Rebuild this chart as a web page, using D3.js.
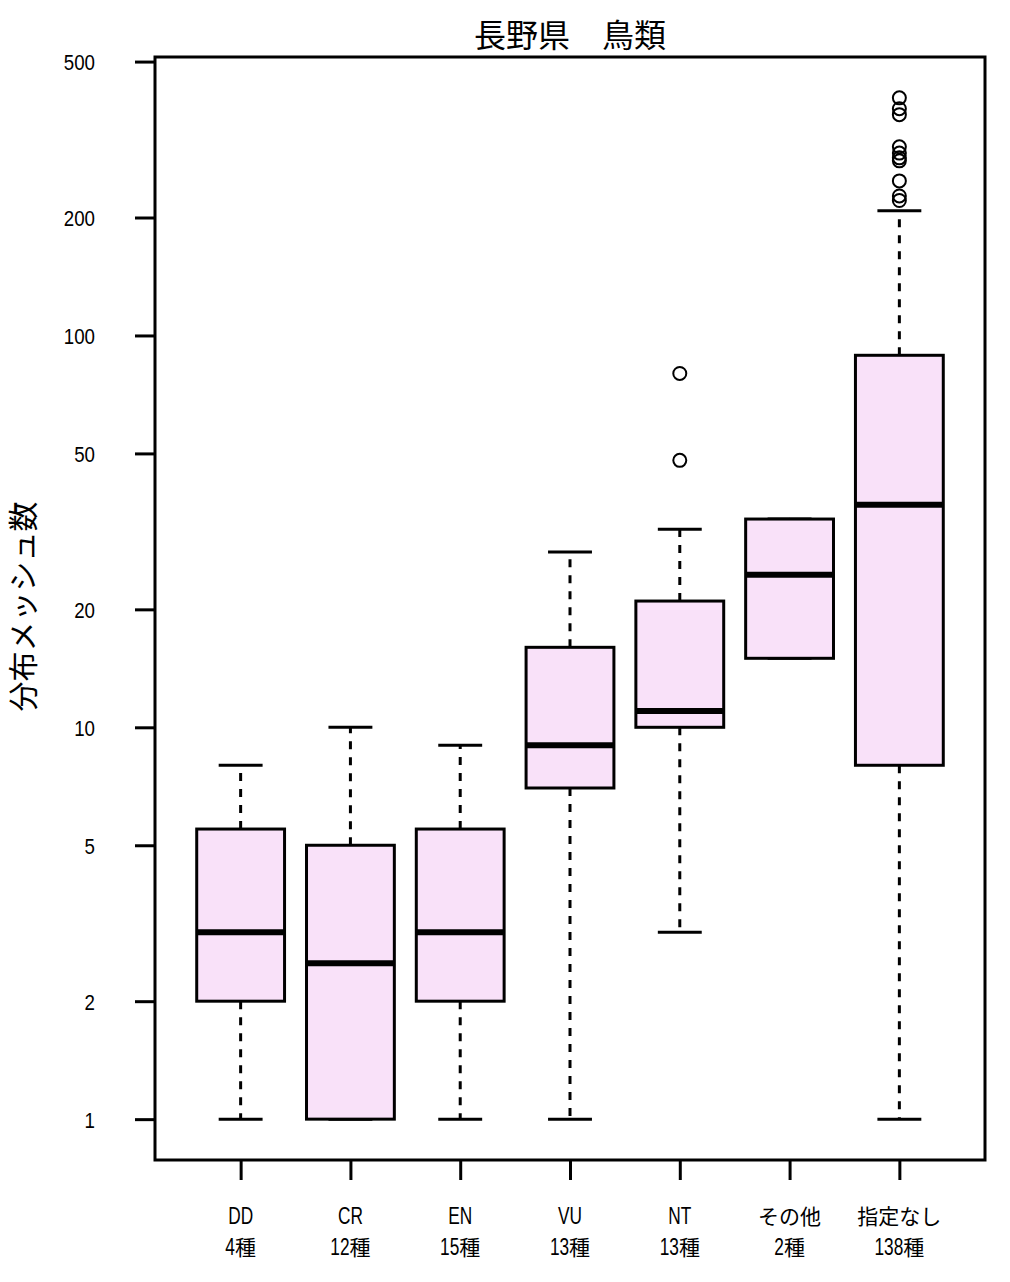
<!DOCTYPE html>
<html>
<head>
<meta charset="utf-8">
<script src="https://cdn.jsdelivr.net/npm/d3@7"></script>
<style>
body { margin:0; background:#fff; }
svg { display:block; }
.lat { font-family: "Liberation Sans", Arial, sans-serif; }
.jp { font-family: "Noto Sans CJK JP", sans-serif; }
</style>
</head>
<body>
<svg id="chart" width="1010" height="1282"></svg>
<script>
// ---- data ----
const categories = ["DD", "CR", "EN", "VU", "NT", "その他", "指定なし"];
const speciesCounts = ["4種", "12種", "15種", "13種", "13種", "2種", "138種"];
const whiskerLow  = [1, 1, 1, 1, 3, 15, 1];
const boxLow      = [2, 1, 2, 7, 10, 15, 8];
const medians     = [3, 2.5, 3, 9, 11, 24.5, 37];
const boxHigh     = [5.5, 5, 5.5, 16, 21, 34, 89];
const whiskerHigh = [8, 10, 9, 28, 32, 34, 208];
const outliers = [
  [], [], [], [], [48, 80], [],
  [404, 379, 366, 303, 292, 284, 279, 248, 227, 221]
];
const yTicks = [1, 2, 5, 10, 20, 50, 100, 200, 500];
const titleText = "長野県　鳥類";
const yLabel = "分布メッシュ数";

// ---- layout ----
const svg = d3.select("#chart");
const L = 155, R = 985, T = 57, B = 1160;
const n = categories.length;
const ext = n * 0.04;
const x = d3.scaleLinear().domain([0.5 - ext, n + 0.5 + ext]).range([L, R]);
const allVals = whiskerLow.concat(whiskerHigh, outliers.flat());
const lmin = Math.log10(d3.min(allVals)), lmax = Math.log10(d3.max(allVals));
const pad = (lmax - lmin) * 0.04;
const y = d3.scaleLog().domain([Math.pow(10, lmin - pad), Math.pow(10, lmax + pad)]).range([B, T]);

const unit = x(2) - x(1);
const boxW = unit * 0.8;
const capW = boxW / 2;
const fill = "#f9e1f9";
const lw = 3;

// mixed-script text: narrow tall Latin, normal CJK
function mixedText(parent, cx, by, str, anchor, latSize, sx, cjkSize) {
  const runs = [];
  for (const ch of str) {
    const isLat = ch.charCodeAt(0) < 128;
    if (runs.length && runs[runs.length - 1].lat === isLat) runs[runs.length - 1].s += ch;
    else runs.push({ lat: isLat, s: ch });
  }
  const g = parent.append("g");
  const els = runs.map(r => {
    const t = g.append("text").attr("class", r.lat ? "lat" : "jp")
      .style("font-size", (r.lat ? latSize : cjkSize) + "px").attr("fill", "#000").text(r.s);
    const w = t.node().getComputedTextLength() * (r.lat ? sx : 1);
    return { t, w, lat: r.lat };
  });
  const total = d3.sum(els, e => e.w);
  let xp = anchor === "middle" ? cx - total / 2 : anchor === "end" ? cx - total : cx;
  els.forEach(e => {
    e.t.attr("transform", `translate(${xp},${by}) scale(${e.lat ? sx : 1},1)`);
    xp += e.w;
  });
  return g;
}

const g = svg.append("g");
categories.forEach((c, i) => {
  const cx = x(i + 1);
  const grp = g.append("g");
  grp.append("line").attr("x1", cx).attr("x2", cx)
    .attr("y1", y(boxLow[i])).attr("y2", y(whiskerLow[i]))
    .attr("stroke", "#000").attr("stroke-width", lw).attr("stroke-dasharray", "8,8");
  grp.append("line").attr("x1", cx).attr("x2", cx)
    .attr("y1", y(boxHigh[i])).attr("y2", y(whiskerHigh[i]))
    .attr("stroke", "#000").attr("stroke-width", lw).attr("stroke-dasharray", "8,8");
  [whiskerLow[i], whiskerHigh[i]].forEach(v => {
    grp.append("line").attr("x1", cx - capW / 2).attr("x2", cx + capW / 2)
      .attr("y1", y(v)).attr("y2", y(v))
      .attr("stroke", "#000").attr("stroke-width", lw);
  });
  grp.append("rect").attr("x", cx - boxW / 2).attr("width", boxW)
    .attr("y", y(boxHigh[i])).attr("height", y(boxLow[i]) - y(boxHigh[i]))
    .attr("fill", fill).attr("stroke", "#000").attr("stroke-width", lw);
  grp.append("line").attr("x1", cx - boxW / 2).attr("x2", cx + boxW / 2)
    .attr("y1", y(medians[i])).attr("y2", y(medians[i]))
    .attr("stroke", "#000").attr("stroke-width", 6);
  outliers[i].forEach(v => {
    grp.append("circle").attr("cx", cx).attr("cy", y(v)).attr("r", 6.5)
      .attr("fill", "none").attr("stroke", "#000").attr("stroke-width", 2);
  });
});

// frame
svg.append("rect").attr("x", L).attr("y", T).attr("width", R - L).attr("height", B - T)
  .attr("fill", "none").attr("stroke", "#000").attr("stroke-width", lw);

// y axis
const ya = d3.axisLeft(y).tickValues(yTicks).tickFormat(d3.format("d")).tickSize(20);
const yg = svg.append("g").attr("transform", `translate(${L},0)`).call(ya);
yg.select(".domain").remove();
yg.selectAll(".tick line").attr("stroke", "#000").attr("stroke-width", lw);
yg.selectAll(".tick text")
  .attr("class", "lat").attr("fill", "#000").style("font-size", "22px")
  .attr("x", 0).attr("dy", "0.36em").attr("text-anchor", "end")
  .attr("transform", "translate(-60,0) scale(0.85,1)");

// x axis
const xa = d3.axisBottom(x).tickValues(d3.range(1, n + 1)).tickSize(20).tickFormat(() => "");
const xg = svg.append("g").attr("transform", `translate(0,${B})`).call(xa);
xg.select(".domain").remove();
xg.selectAll(".tick line").attr("stroke", "#000").attr("stroke-width", lw);

categories.forEach((c, i) => {
  mixedText(svg, x(i + 1), 1224, c, "middle", 24, 0.72, 21);
  mixedText(svg, x(i + 1), 1254.5, speciesCounts[i], "middle", 24, 0.72, 21);
});

// title
svg.append("text").attr("class", "jp").attr("x", (L + R) / 2).attr("y", 47)
  .attr("text-anchor", "middle").style("font-size", "32px").attr("fill", "#000").text(titleText);

// y label
svg.append("text").attr("class", "jp")
  .attr("transform", `translate(34,${(T + B) / 2 - 2}) rotate(-90)`)
  .attr("text-anchor", "middle").style("font-size", "30px").attr("fill", "#000").text(yLabel);
</script>
</body>
</html>
